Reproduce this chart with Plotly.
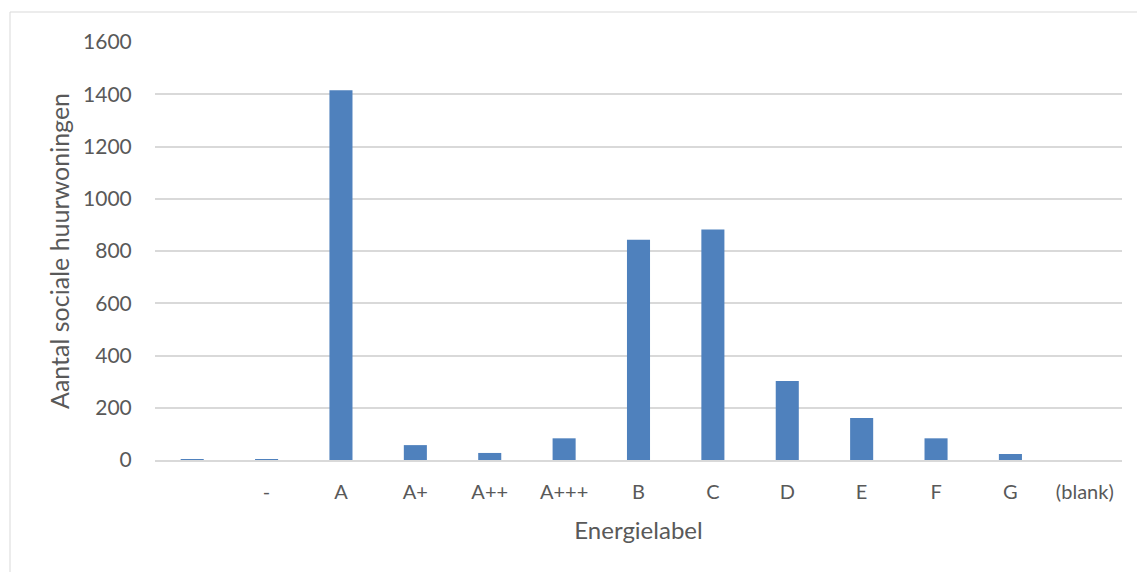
import plotly.graph_objects as go

# Energy labels of social rental homes
labels = ["", "-", "A", "A+", "A++", "A+++", "B", "C", "D", "E", "F", "G", "(blank)"]
counts = [3, 1, 1415, 57, 27, 83, 843, 882, 302, 161, 83, 23, 0]
y_ticks = [0, 200, 400, 600, 800, 1000, 1200, 1400, 1600]

W, H = 1137, 572
L, R, T, B = 155, 15, 42, 112

positions = list(range(len(labels)))

fig = go.Figure(
    go.Bar(
        x=positions,
        y=counts,
        marker=dict(color="#4F81BD", line=dict(width=0)),
        width=0.31,
    )
)

font = "Lato, 'Open Sans', sans-serif"
text_col = "#595959"

fig.update_layout(
    width=W,
    height=H,
    margin=dict(l=L, r=R, t=T, b=B),
    paper_bgcolor="white",
    plot_bgcolor="white",
    showlegend=False,
    font=dict(family=font, color=text_col, size=20),
    xaxis=dict(
        tickmode="array",
        tickvals=positions,
        ticktext=labels,
        range=[-0.5, len(labels) - 0.5],
        showgrid=False,
        showline=True,
        linecolor="#D9D9D9",
        linewidth=1.5,
        ticks="outside",
        ticklen=13,
        tickcolor="rgba(0,0,0,0)",
        tickfont=dict(size=20, color=text_col),
        title=dict(text="Energielabel", font=dict(size=24, color=text_col), standoff=20),
        zeroline=False,
    ),
    yaxis=dict(
        tickmode="array",
        tickvals=y_ticks,
        range=[0, 1600],
        showgrid=True,
        gridcolor="#D9D9D9",
        gridwidth=1.5,
        zeroline=False,
        showline=False,
        ticks="outside",
        ticklen=18,
        tickcolor="rgba(0,0,0,0)",
        tickfont=dict(size=21, color=text_col),
        title=dict(text="Aantal sociale huurwoningen", font=dict(size=25, color=text_col), standoff=6),
    ),
)

# Chart-area border
pw = W - L - R
ph = H - T - B
fig.add_shape(
    type="rect",
    xref="paper", yref="paper",
    x0=(10 - L) / pw, x1=(W + 5 - L) / pw,
    y0=-(H + 5 - T - ph) / ph, y1=1 + (T - 12) / ph,
    line=dict(color="#D9D9D9", width=1),
    fillcolor="rgba(0,0,0,0)",
    layer="below",
)

fig.write_html("out.html")
